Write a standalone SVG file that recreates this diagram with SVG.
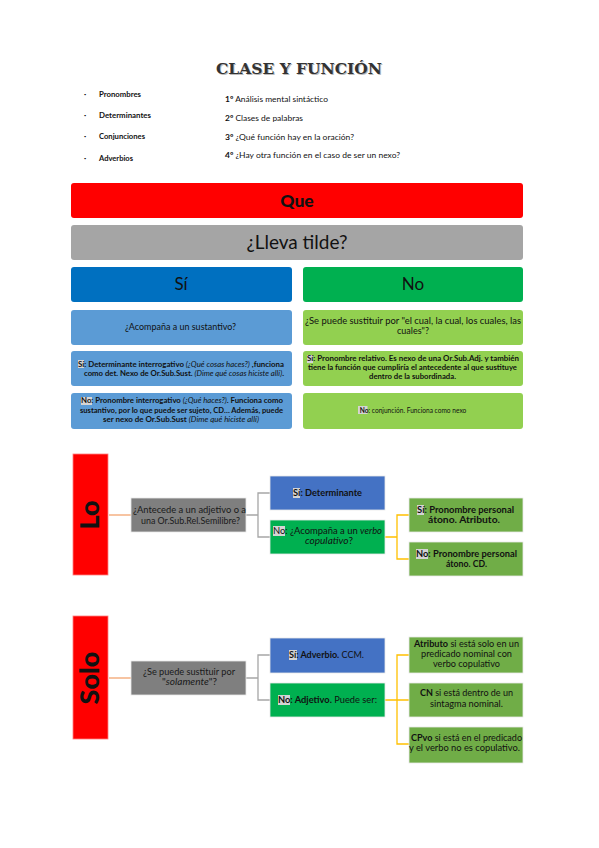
<svg xmlns="http://www.w3.org/2000/svg" width="599" height="848" viewBox="0 0 599 848">
<defs>
<style>
text{font-family:Lato,"Open Sans","Liberation Sans",sans-serif;fill:#111;}
.c{text-anchor:middle;}
.b{font-weight:bold;}
.n{font-weight:normal;}
.i{font-style:italic;}
.s7{font-size:7.2px;}
.s8{font-size:8px;}
.s9{font-size:9px;}
.hl{fill:#D4D4D4;}
.gline{fill:none;stroke:#A6A6A6;stroke-width:1.3;}
.yline{fill:none;stroke:#FFC000;stroke-width:1.3;}
.oline{fill:none;stroke:#F4B183;stroke-width:1.5;}
.bx{stroke:#E8E8E8;stroke-width:0.8;}
</style>
</defs>
<rect width="599" height="848" fill="#fff"/>

<!-- Title -->
<g id="title">
<text x="217" y="75" textLength="166" lengthAdjust="spacingAndGlyphs" style="font-family:'DejaVu Serif',serif;font-weight:bold;font-size:14px;fill:#bbb">CLASE Y FUNCIÓN</text>
<text x="216" y="74" textLength="166" lengthAdjust="spacingAndGlyphs" style="font-family:'DejaVu Serif',serif;font-weight:bold;font-size:14px;fill:#333">CLASE Y FUNCIÓN</text>
</g>

<g id="list-left">
<text x="84" y="97" class="b s8">·</text><text x="99" y="97" class="b s8" textLength="42" lengthAdjust="spacingAndGlyphs">Pronombres</text>
<text x="84" y="118" class="b s8">·</text><text x="99" y="118" class="b s8" textLength="52" lengthAdjust="spacingAndGlyphs">Determinantes</text>
<text x="84" y="139" class="b s8">·</text><text x="99" y="139" class="b s8" textLength="46" lengthAdjust="spacingAndGlyphs">Conjunciones</text>
<text x="84" y="161" class="b s8">·</text><text x="99" y="161" class="b s8" textLength="34" lengthAdjust="spacingAndGlyphs">Adverbios</text>
</g>
<g id="list-right">
<text x="225" y="102" class="s8" textLength="103" lengthAdjust="spacingAndGlyphs"><tspan class="b">1º</tspan> Análisis mental sintáctico</text>
<text x="225" y="121" class="s8" textLength="78" lengthAdjust="spacingAndGlyphs"><tspan class="b">2º</tspan> Clases de palabras</text>
<text x="225" y="140" class="s8" textLength="129" lengthAdjust="spacingAndGlyphs"><tspan class="b">3º</tspan> ¿Qué función hay en la oración?</text>
<text x="225" y="158" class="s8" textLength="175" lengthAdjust="spacingAndGlyphs"><tspan class="b">4º</tspan> ¿Hay otra función en el caso de ser un nexo?</text>
</g>

<!-- QUE section -->
<g id="que">
<rect x="71" y="183" width="452" height="35" rx="3" fill="#FF0000"/>
<text x="297" y="207" class="c" style="font-size:17.5px;font-weight:900">Que</text>
</g>
<g id="tilde">
<rect x="71" y="225" width="452" height="35" rx="3" fill="#A5A5A5"/>
<text x="297" y="249" class="c" style="font-size:19px">¿Lleva tilde?</text>
</g>
<g id="si">
<rect x="71" y="267" width="221" height="35" rx="3" fill="#0070C0"/>
<text x="181" y="290" class="c" style="font-size:17px">Sí</text>
</g>
<g id="no">
<rect x="303" y="267" width="220" height="35" rx="3" fill="#00B050"/>
<text x="413" y="290" class="c" style="font-size:17px">No</text>
</g>
<g id="acompana">
<rect x="71" y="310" width="221" height="35" rx="3" fill="#5B9BD5"/>
<text x="125" y="330" class="s9" textLength="111" lengthAdjust="spacingAndGlyphs">¿Acompaña a un sustantivo?</text>
</g>
<g id="sustituir">
<rect x="303" y="310" width="220" height="35" rx="3" fill="#92D050"/>
<text x="305" y="324" class="s9" textLength="216" lengthAdjust="spacingAndGlyphs">¿Se puede sustituir por "el cual, la cual, los cuales, las</text>
<text x="397" y="334" class="s9" textLength="32" lengthAdjust="spacingAndGlyphs">cuales"?</text>
</g>
<g id="si-det">
<rect x="71" y="351" width="221" height="35" rx="3" fill="#5B9BD5"/>
<rect x="78" y="360" width="6" height="8" class="hl"/>
<text x="78" y="366.5" class="s7 b" textLength="206" lengthAdjust="spacingAndGlyphs">Sí: Determinante interrogativo <tspan class="i n">(¿Qué cosas haces?)</tspan> ,funciona</text>
<text x="84" y="375.5" class="s7 b" textLength="200" lengthAdjust="spacingAndGlyphs">como det. Nexo de Or.Sub.Sust. <tspan class="i n">(Dime qué cosas hiciste allí)</tspan>.</text>
</g>
<g id="no-pron">
<rect x="71" y="393" width="221" height="36" rx="3" fill="#5B9BD5"/>
<rect x="81" y="397" width="11" height="8" class="hl"/>
<text x="81" y="403" class="s7 b" textLength="202" lengthAdjust="spacingAndGlyphs">No: Pronombre interrogativo <tspan class="i n">(¿Qué haces?)</tspan>. Funciona como</text>
<text x="80" y="412.5" class="s7 b" textLength="203" lengthAdjust="spacingAndGlyphs">sustantivo, por lo que puede ser sujeto, CD… Además, puede</text>
<text x="103" y="421.5" class="s7 b" textLength="156" lengthAdjust="spacingAndGlyphs">ser nexo de Or.Sub.Sust <tspan class="i n">(Dime qué hiciste allí)</tspan></text>
</g>
<g id="si-rel">
<rect x="303" y="351" width="220" height="35" rx="3" fill="#92D050"/>
<rect x="307" y="355" width="6" height="8" class="hl"/>
<text x="307" y="361" class="s7 b" textLength="212" lengthAdjust="spacingAndGlyphs">Sí: Pronombre relativo. Es nexo de una Or.Sub.Adj. y también</text>
<text x="308" y="370" class="s7 b" textLength="209" lengthAdjust="spacingAndGlyphs">tiene la función que cumpliría el antecedente al que sustituye</text>
<text x="369" y="379" class="s7 b" textLength="87" lengthAdjust="spacingAndGlyphs">dentro de la subordinada.</text>
</g>
<g id="no-conj">
<rect x="303" y="393" width="220" height="36" rx="3" fill="#92D050"/>
<rect x="358" y="406" width="9.5" height="8" class="hl"/>
<text x="413" y="412.5" class="c" style="font-size:6.6px"><tspan class="b">No</tspan>: conjunción. Funciona como nexo</text>
</g>

<!-- Connectors -->
<g id="connectors">
<path class="oline" d="M109 515 H131"/>
<path class="gline" d="M246 515 H258 M270 493 H258 V537 H270"/>
<path class="yline" d="M385 537 H397 M409 515 H397 V559 H409"/>
<path class="oline" d="M109 678 H131"/>
<path class="gline" d="M246 678 H258 M270 655 H258 V700 H270"/>
<path class="yline" d="M385 700 H397 M409 655 H397 V744 H409 M397 700 H409"/>
</g>

<!-- LO section -->
<g id="lo">
<rect x="73" y="454" width="35" height="121" fill="#FF0000" stroke="#FF7F7F" stroke-width="0.8"/>
<text transform="translate(99 515) rotate(-90)" class="c" style="font-size:27px;font-weight:900">Lo</text>
</g>
<g id="lo-q">
<rect x="131" y="498" width="115" height="34" fill="#7F7F7F" class="bx"/>
<text x="133" y="513" class="s9" style="fill:#1a1a1a" textLength="113" lengthAdjust="spacingAndGlyphs">¿Antecede a un adjetivo o a</text>
<text x="141" y="524" class="s9" style="fill:#1a1a1a" textLength="99" lengthAdjust="spacingAndGlyphs">una Or.Sub.Rel.Semilibre?</text>
</g>
<g id="lo-si">
<rect x="270" y="476" width="115" height="34" fill="#4472C4" class="bx"/>
<rect x="293" y="488" width="7" height="10" class="hl"/>
<text x="293" y="496" class="s9 b" textLength="69" lengthAdjust="spacingAndGlyphs">Sí: Determinante</text>
</g>
<g id="lo-no">
<rect x="270" y="520" width="115" height="34" fill="#00B050" class="bx"/>
<rect x="273" y="526" width="12" height="10" class="hl"/>
<text x="273" y="534" class="s9" textLength="109" lengthAdjust="spacingAndGlyphs">No: ¿Acompaña a un <tspan class="i">verbo</tspan></text>
<text x="305" y="544" class="s9" textLength="48" lengthAdjust="spacingAndGlyphs"><tspan class="i">copulativo</tspan>?</text>
</g>
<g id="lo-si2">
<rect x="409" y="498" width="114" height="34" fill="#70AD47" class="bx"/>
<rect x="417" y="505" width="7" height="10" class="hl"/>
<text x="417" y="513" class="s9 b" textLength="97" lengthAdjust="spacingAndGlyphs">Sí: Pronombre personal</text>
<text x="428" y="523" class="s9 b" textLength="72" lengthAdjust="spacingAndGlyphs">átono. Atributo.</text>
</g>
<g id="lo-no2">
<rect x="409" y="542" width="114" height="34" fill="#70AD47" class="bx"/>
<rect x="416" y="549" width="12" height="10" class="hl"/>
<text x="416" y="556.5" class="s9 b" textLength="101" lengthAdjust="spacingAndGlyphs">No: Pronombre personal</text>
<text x="446" y="566.5" class="s9 b" textLength="41" lengthAdjust="spacingAndGlyphs">átono. CD.</text>
</g>

<!-- SOLO section -->
<g id="solo">
<rect x="73" y="616" width="35" height="123" fill="#FF0000" stroke="#FF7F7F" stroke-width="0.8"/>
<text transform="translate(99 678) rotate(-90)" class="c" style="font-size:27px;font-weight:900">Solo</text>
</g>
<g id="solo-q">
<rect x="131" y="661" width="115" height="34" fill="#7F7F7F" class="bx"/>
<text x="143" y="675" class="s9" style="fill:#1a1a1a" textLength="92" lengthAdjust="spacingAndGlyphs">¿Se puede sustituir por</text>
<text x="162" y="685" class="s9" style="fill:#1a1a1a" textLength="55" lengthAdjust="spacingAndGlyphs">"<tspan class="i">solamente</tspan>"?</text>
</g>
<g id="solo-si">
<rect x="270" y="638" width="115" height="35" fill="#4472C4" class="bx"/>
<rect x="289" y="650" width="8" height="10" class="hl"/>
<text x="289" y="658" class="s9" textLength="75" lengthAdjust="spacingAndGlyphs"><tspan class="b">Sí: Adverbio.</tspan> CCM.</text>
</g>
<g id="solo-no">
<rect x="270" y="683" width="115" height="34" fill="#00B050" class="bx"/>
<rect x="278" y="695" width="12" height="10" class="hl"/>
<text x="278" y="703" class="s9" textLength="99" lengthAdjust="spacingAndGlyphs"><tspan class="b">No: Adjetivo.</tspan> Puede ser:</text>
</g>
<g id="solo-atr">
<rect x="409" y="637" width="114" height="36" fill="#70AD47" class="bx"/>
<text x="414" y="647" class="s9" textLength="105" lengthAdjust="spacingAndGlyphs"><tspan class="b">Atributo</tspan> si está solo en un</text>
<text x="421" y="657" class="s9" textLength="91" lengthAdjust="spacingAndGlyphs">predicado nominal con</text>
<text x="433" y="667" class="s9" textLength="67" lengthAdjust="spacingAndGlyphs">verbo copulativo</text>
</g>
<g id="solo-cn">
<rect x="409" y="683" width="114" height="34" fill="#70AD47" class="bx"/>
<text x="420" y="696" class="s9" textLength="93" lengthAdjust="spacingAndGlyphs"><tspan class="b">CN</tspan> si está dentro de un</text>
<text x="430" y="707" class="s9" textLength="73" lengthAdjust="spacingAndGlyphs">sintagma nominal.</text>
</g>
<g id="solo-cpvo">
<rect x="409" y="727" width="114" height="36" fill="#70AD47" class="bx"/>
<text x="411" y="741" class="s9" textLength="111" lengthAdjust="spacingAndGlyphs"><tspan class="b">CPvo</tspan> si está en el predicado</text>
<text x="409" y="751" class="s9" textLength="111" lengthAdjust="spacingAndGlyphs">y el verbo no es copulativo.</text>
</g>
</svg>
